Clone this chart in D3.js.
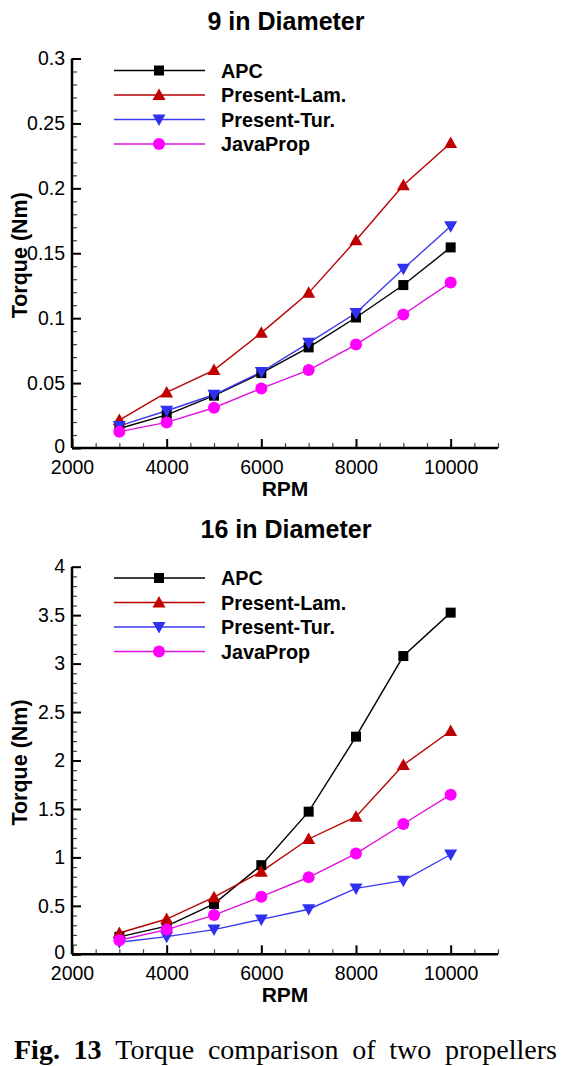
<!DOCTYPE html>
<html><head><meta charset="utf-8">
<script src="https://cdnjs.cloudflare.com/ajax/libs/d3/7.8.5/d3.min.js"></script>
<style>
html,body{margin:0;padding:0;background:#fff;}
svg{display:block;}
</style></head>
<body>
<svg id="c" width="571" height="1066"></svg>
<script>
const rpm = [3000, 4000, 5000, 6000, 7000, 8000, 9000, 10000];
const seriesNames = ["APC", "Present-Lam.", "Present-Tur.", "JavaProp"];

// 9 in diameter
const apc9    = [0.015, 0.0255, 0.0403, 0.0577, 0.0775, 0.1005, 0.1255, 0.1545];
const lam9    = [0.0215, 0.0428, 0.060, 0.0887, 0.1195, 0.160, 0.2023, 0.2349];
const tur9    = [0.017, 0.0287, 0.041, 0.0585, 0.081, 0.104, 0.138, 0.1708];
const java9   = [0.0126, 0.0197, 0.031, 0.0459, 0.060, 0.0797, 0.1028, 0.1274];

// 16 in diameter
const apc16   = [0.18, 0.29, 0.52, 0.92, 1.472, 2.246, 3.078, 3.526];
const lam16   = [0.22, 0.364, 0.59, 0.853, 1.19, 1.42, 1.954, 2.305];
const tur16   = [0.125, 0.182, 0.255, 0.36, 0.465, 0.68, 0.76, 1.03];
const java16  = [0.145, 0.255, 0.405, 0.595, 0.795, 1.04, 1.345, 1.647];

const xTicks   = [2000, 4000, 6000, 8000, 10000];
const yTicks9  = [0, 0.05, 0.1, 0.15, 0.2, 0.25, 0.3];
const yTicks16 = [0, 0.5, 1, 1.5, 2, 2.5, 3, 3.5, 4];

const captionBold = ["Fig.", "13"];
const captionWords = ["Torque", "comparison", "of", "two", "propellers"];

const colors = ["#000000", "#c00000", "#3030f0", "#ff00ff"];
const lineColors = ["#000000", "#b80000", "#3a3af0", "#e010e0"];
const markers = ["square", "triUp", "triDown", "circle"];

const svg = d3.select("#c");
const FONT = "'Liberation Sans', Arial, sans-serif";

function drawMarker(g, type, x, y, color) {
  if (type === "square") {
    g.append("rect").attr("x", x - 5).attr("y", y - 5).attr("width", 10).attr("height", 10).attr("fill", color);
  } else if (type === "circle") {
    g.append("circle").attr("cx", x).attr("cy", y).attr("r", 6).attr("fill", color);
  } else if (type === "triUp") {
    g.append("path").attr("d", `M${x},${y-6.5}L${x+6.5},${y+5}L${x-6.5},${y+5}Z`).attr("fill", color);
  } else {
    g.append("path").attr("d", `M${x},${y+6.5}L${x+6.5},${y-5}L${x-6.5},${y-5}Z`).attr("fill", color);
  }
}

function chart(opts) {
  const g = svg.append("g");
  const x = d3.scaleLinear().domain([2000, 11000]).range([72, 498]);
  const y = d3.scaleLinear().domain([0, opts.ymax]).range([opts.y0, opts.yTop]);

  // title
  g.append("text").attr("x", 286).attr("y", opts.titleY).attr("text-anchor", "middle")
    .attr("font-family", FONT).attr("font-weight", "bold").attr("font-size", 25).text(opts.title);

  // minor ticks
  const xMinor = d3.range(2000, 11001, 500).filter(v => !xTicks.includes(v));
  const yMinor = d3.range(0, Math.round(opts.ymax / opts.yMinorStep) + 1).map(i => +(i * opts.yMinorStep).toFixed(4))
      .filter(v => !opts.yTicks.some(t => Math.abs(t - v) < 1e-9));
  g.append("g").attr("transform", `translate(0,${opts.y0})`)
    .call(d3.axisBottom(x).tickValues(xMinor).tickSize(-5).tickFormat(""))
    .call(a => a.select(".domain").remove())
    .selectAll("line").attr("stroke", "#444").attr("stroke-width", 1.2);
  g.append("g").attr("transform", `translate(72,0)`)
    .call(d3.axisLeft(y).tickValues(yMinor).tickSize(-5).tickFormat(""))
    .call(a => a.select(".domain").remove())
    .selectAll("line").attr("stroke", "#444").attr("stroke-width", 1.2);

  // major axes
  const xa = g.append("g").attr("transform", `translate(0,${opts.y0})`)
    .call(d3.axisBottom(x).tickValues(xTicks).tickSizeInner(-9).tickSizeOuter(0).tickPadding(12).tickFormat(d3.format("d")));
  xa.select(".domain").attr("stroke-width", 2.5).attr("d", `M72,0H498`);
  xa.selectAll("line").attr("stroke-width", 2);
  xa.selectAll("text").attr("font-family", FONT).attr("font-size", 19.5).attr("fill", "#000");

  const ya = g.append("g").attr("transform", `translate(72,0)`)
    .call(d3.axisLeft(y).tickValues(opts.yTicks).tickSizeInner(-9).tickSizeOuter(0).tickPadding(7).tickFormat(d => String(+d.toFixed(3))));
  ya.select(".domain").attr("stroke-width", 2.5).attr("d", `M0,${opts.y0}V${opts.yTop}`);
  ya.selectAll("line").attr("stroke-width", 2);
  ya.selectAll("text").attr("font-family", FONT).attr("font-size", 19.5).attr("fill", "#000");
  ya.selectAll(".tick").filter(d => d === 0).select("text").attr("dy", "0.22em");

  // axis labels
  g.append("text").attr("x", 285).attr("y", opts.y0 + 48).attr("text-anchor", "middle")
    .attr("font-family", FONT).attr("font-weight", "bold").attr("font-size", 21).text("RPM");
  g.append("text").attr("transform", `translate(27,${(opts.y0 + opts.yTop) / 2 + 2}) rotate(-90)`)
    .attr("text-anchor", "middle").attr("font-family", FONT).attr("font-weight", "bold").attr("font-size", 21.5)
    .text("Torque (Nm)");

  // series
  const line = d3.line().x((d, i) => x(rpm[i])).y(d => y(d));
  opts.series.forEach((s, k) => {
    g.append("path").datum(s).attr("d", line).attr("fill", "none")
      .attr("stroke", lineColors[k]).attr("stroke-width", 1.4);
  });
  opts.series.forEach((s, k) => {
    s.forEach((v, i) => drawMarker(g, markers[k], x(rpm[i]), y(v), colors[k]));
  });

  // legend
  seriesNames.forEach((name, k) => {
    const ly = opts.legendY + k * 24.5;
    g.append("line").attr("x1", 114).attr("x2", 205).attr("y1", ly).attr("y2", ly)
      .attr("stroke", lineColors[k]).attr("stroke-width", 1.6);
    drawMarker(g, markers[k], 159, ly, colors[k]);
    g.append("text").attr("x", 221).attr("y", ly + 7).attr("font-family", FONT)
      .attr("font-weight", "bold").attr("font-size", 19.8).text(name);
  });
}

chart({title: "9 in Diameter", titleY: 30, ymax: 0.3, y0: 448, yTop: 58.5, yTicks: yTicks9, yMinorStep: 0.01,
       series: [apc9, lam9, tur9, java9], legendY: 70.5});
chart({title: "16 in Diameter", titleY: 538, ymax: 4, y0: 954.3, yTop: 566.7, yTicks: yTicks16, yMinorStep: 0.1,
       series: [apc16, lam16, tur16, java16], legendY: 578});

// caption, justified between x=14 and x=557
const capG = svg.append("g").attr("font-family", "'Liberation Serif', 'Times New Roman', serif").attr("font-size", 28);
const words = captionBold.map(w => ({w, b: true})).concat(captionWords.map(w => ({w, b: false})));
const nodes = words.map(o => capG.append("text").attr("y", 1059).attr("font-weight", o.b ? "bold" : "normal").text(o.w));
const widths = nodes.map(n => n.node().getComputedTextLength());
const total = d3.sum(widths);
const gap = (557 - 14 - total) / (words.length - 1);
let cx = 14;
nodes.forEach((n, i) => { n.attr("x", cx); cx += widths[i] + gap; });
</script>
</body></html>
